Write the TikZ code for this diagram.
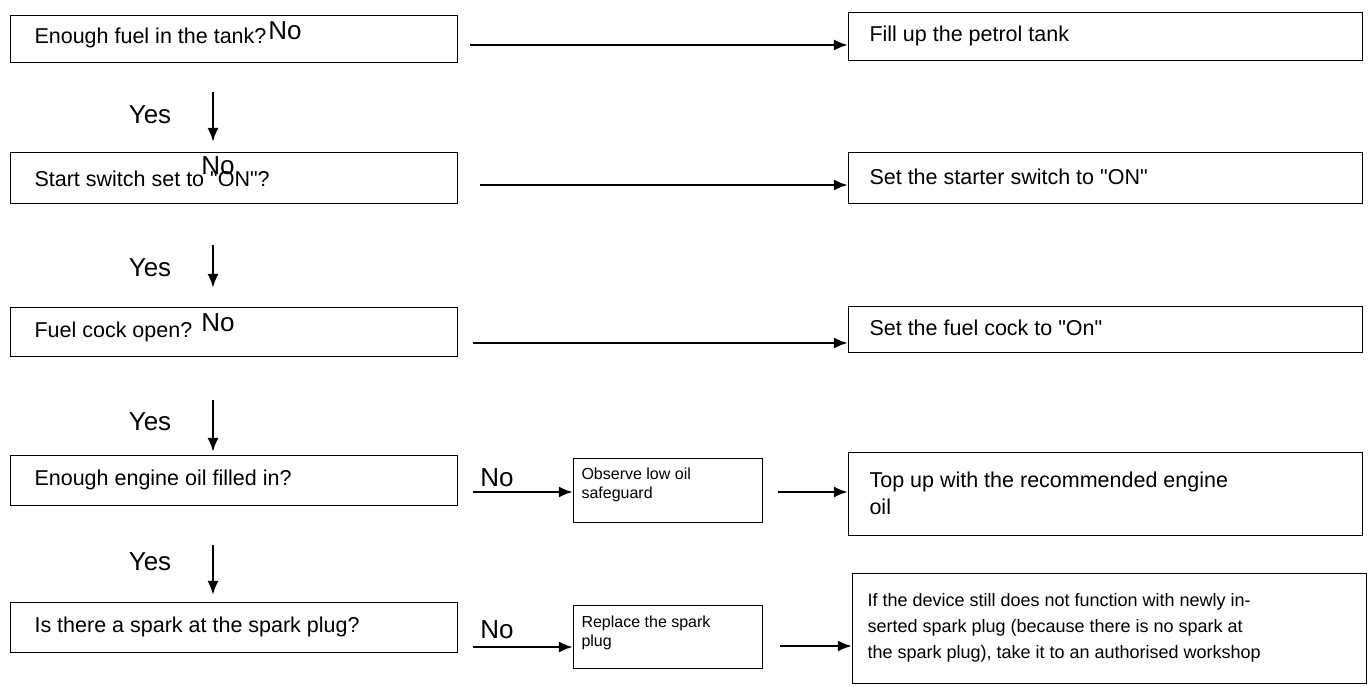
\documentclass[tikz,border=0pt]{standalone}
\usepackage{fontspec}
\setmainfont{Liberation Sans}
\usetikzlibrary{arrows.meta,positioning}
\newcommand{\dq}{\textquotedbl}
\begin{document}
\begin{tikzpicture}[x=1pt,y=-1pt]
\tikzstyle{box} = [draw, thick, anchor=north west, inner sep=0pt];
\tikzstyle{txt} = [anchor=west, align=left, font=\fontsize{21.5}{27}\selectfont];
\tikzstyle{stxt} = [anchor=north west, align=left, font=\fontsize{16}{19}\selectfont];
\tikzstyle{lbl} = [font=\fontsize{26}{28}\selectfont];
\tikzstyle{arr} = [-{Latex[length=5mm,width=4mm]}, line width=1mm];
\useasboundingbox (0,0) rectangle (1370,687);

% question boxes
\node[box, minimum width=447, minimum height=47] (Q1) at (10,15) {};
\node[txt] at (31,38) {Enough fuel in the tank?};
\node[box, minimum width=447, minimum height=51] (Q2) at (10,152) {};
\node[txt] at (31,179) {Start switch set to \dq ON\dq ?};
\node[box, minimum width=447, minimum height=49] (Q3) at (10,307) {};
\node[txt] at (31,332) {Fuel cock open?};
\node[box, minimum width=447, minimum height=50] (Q4) at (10,455) {};
\node[txt] at (31,480) {Enough engine oil filled in?};
\node[box, minimum width=447, minimum height=50] (Q5) at (10,602) {};
\node[txt] at (31,627) {Is there a spark at the spark plug?};

% action boxes
\node[box, minimum width=514, minimum height=48] (A1) at (848,12) {};
\node[txt] at (866,36) {Fill up the petrol tank};
\node[box, minimum width=514, minimum height=51] (A2) at (848,152) {};
\node[txt] at (866,177) {Set the starter switch to \dq ON\dq};
\node[box, minimum width=514, minimum height=46] (A3) at (848,306) {};
\node[txt] at (866,328) {Set the fuel cock to \dq On\dq};
\node[box, minimum width=514, minimum height=83] (A4) at (848,452) {};
\node[txt] at (866,493) {Top up with the recommended engine\\oil};
\node[box, minimum width=514, minimum height=110] (A5) at (852,573) {};
\node[anchor=west, align=left, font=\fontsize{18}{26}\selectfont] at (864,628) {If the device still does not function with newly in-\\serted spark plug (because there is no spark at\\the spark plug), take it to an authorised workshop};

% middle boxes
\node[box, minimum width=189, minimum height=64] (M4) at (573,458) {};
\node[stxt] at (578,464) {Observe low oil\\safeguard};
\node[box, minimum width=189, minimum height=63] (M5) at (573,605) {};
\node[stxt] at (578,612) {Replace the spark\\plug};

% no arrows
\draw[arr] (470,45) -- (A1.west |- 0,45);
\draw[arr] (480,185) -- (A2.west |- 0,185);
\draw[arr] (473,343) -- (A3.west |- 0,343);
\draw[arr] (473,492) -- (M4.west |- 0,492);
\draw[arr] (778,492) -- (A4.west |- 0,492);
\draw[arr] (473,647) -- (M5.west |- 0,647);
\draw[arr] (780,646) -- (A5.west |- 0,646);
\node[lbl] at (285,31) {No};
\node[lbl] at (218,166) {No};
\node[lbl] at (218,323) {No};
\node[lbl] at (497,478) {No};
\node[lbl] at (497,630) {No};

% yes arrows
\draw[arr] (213,92) -- (213,142);
\draw[arr] (213,245) -- (213,288);
\draw[arr] (213,400) -- (213,452);
\draw[arr] (213,545) -- (213,595);
\node[lbl] at (150,115) {Yes};
\node[lbl] at (150,268) {Yes};
\node[lbl] at (150,422) {Yes};
\node[lbl] at (150,562) {Yes};
\end{tikzpicture}
\end{document}
